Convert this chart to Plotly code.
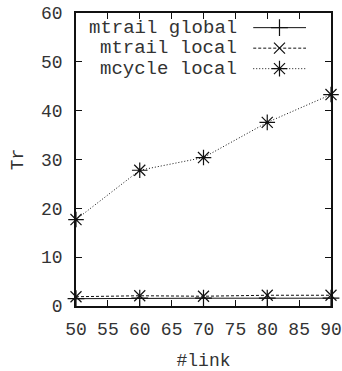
import plotly.graph_objects as go

links = [50, 60, 70, 80, 90]
mtrail_global = [1.5, 1.6, 1.6, 1.6, 1.6]
mtrail_local = [1.9, 2.1, 2.0, 2.2, 2.2]
mcycle_local = [17.7, 27.8, 30.4, 37.6, 43.3]

series_names = ["mtrail global", "mtrail local", "mcycle local"]
series_values = [mtrail_global, mtrail_local, mcycle_local]
dashes = ["solid", "3px,2px", "1px,2px"]
symbols = ["cross-thin-open", "x-thin-open", "asterisk-open"]
sizes = [12, 11, 13]

FONT = "Liberation Mono"
INK = "#111111"
TEXT = "#333333"

fig = go.Figure()
for name, vals, dash, sym, sz in zip(series_names, series_values, dashes, symbols, sizes):
    fig.add_trace(go.Scatter(
        x=links, y=vals, mode="lines+markers", name=name,
        line=dict(color=INK, width=1, dash=dash),
        marker=dict(symbol=sym, size=sz, color=INK, line=dict(color=INK, width=1.2)),
        cliponaxis=False, showlegend=False,
    ))

# key in gnuplot style: right-aligned label followed by the line sample
key_rows = [0.95, 0.88, 0.81]
for name, dash, sym, sz, ky in zip(series_names, dashes, symbols, sizes, key_rows):
    fig.add_trace(go.Scatter(
        x=[0.695, 0.902], y=[ky, ky], mode="lines", xaxis="x2", yaxis="y2",
        line=dict(color=INK, width=1, dash=dash), showlegend=False, hoverinfo="skip",
    ))
    fig.add_trace(go.Scatter(
        x=[0.798], y=[ky], mode="markers", xaxis="x2", yaxis="y2",
        marker=dict(symbol=sym, size=sz, color=INK, line=dict(color=INK, width=1.2)),
        showlegend=False, hoverinfo="skip", cliponaxis=False,
    ))
    fig.add_annotation(
        x=0.64, y=ky, xref="x2", yref="y2", text=name, showarrow=False,
        xanchor="right", yanchor="middle",
        font=dict(family=FONT, size=19, color=TEXT),
    )

axis_common = dict(
    showline=True, linecolor=INK, linewidth=1.5, mirror="ticks",
    ticks="inside", ticklen=6, tickwidth=1, tickcolor=INK,
    showgrid=False, zeroline=False, automargin=False,
    tickfont=dict(family=FONT, size=18, color=TEXT),
)

fig.update_layout(
    width=342, height=371,
    margin=dict(l=76, r=11, t=13, b=65),
    paper_bgcolor="white", plot_bgcolor="white",
    xaxis=dict(range=[50, 90], dtick=5, tick0=50, ticklabelstandoff=6,
               title=dict(text="#link", font=dict(family=FONT, size=18, color=TEXT), standoff=17),
               **axis_common),
    yaxis=dict(range=[0, 60], dtick=10, ticklabelstandoff=8,
               title=dict(text="Tr", font=dict(family=FONT, size=18, color=TEXT), standoff=13),
               **axis_common),
    xaxis2=dict(range=[0, 1], overlaying="x", visible=False),
    yaxis2=dict(range=[0, 1], overlaying="y", visible=False),
)

fig.write_html("out.html")
